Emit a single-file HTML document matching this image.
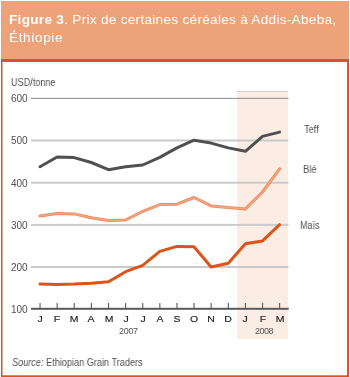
<!DOCTYPE html>
<html><head><meta charset="utf-8">
<style>
html,body{margin:0;padding:0;background:#fff;}
body{width:350px;height:377px;position:relative;overflow:hidden;font-family:"Liberation Sans",sans-serif;}
svg{position:absolute;left:0;top:0;}
.t{position:absolute;white-space:nowrap;line-height:1;will-change:transform;}
</style></head><body>
<svg width="350" height="377" viewBox="0 0 350 377">
  <!-- header -->
  <rect x="1" y="1" width="348" height="58" fill="#EDA27A"/>
  <!-- frame -->
  <rect x="1" y="59" width="348" height="3" fill="#DA5420"/>
  <rect x="1" y="59" width="1.5" height="318" fill="#DA5420"/>
  <rect x="347" y="59" width="2" height="318" fill="#DA5420"/>
  <rect x="1" y="375.3" width="348" height="1.7" fill="#DA5420"/>
  <!-- shaded 2008 -->
  <rect x="237" y="91" width="51" height="248" fill="#FCEDE4"/>
  <rect x="237" y="91" width="51" height="1" fill="#D8CBC2"/>
  <!-- gridlines -->
  <rect x="31" y="97.8" width="257.5" height="1.2" fill="#9A9A9A"/>
  <rect x="31" y="139.5" width="257.5" height="2" fill="#CACACA"/>
  <rect x="31" y="181.7" width="257.5" height="2" fill="#CACACA"/>
  <rect x="31" y="223.9" width="257.5" height="2" fill="#CACACA"/>
  <rect x="31" y="266" width="257.5" height="2" fill="#CACACA"/>
  <!-- axis -->
  <rect x="31" y="307.8" width="257.7" height="2" fill="#5A5A5A"/>
  <g fill="#5A5A5A">
    <rect x="39.5" y="303" width="1.1" height="5"/>
    <rect x="56.6" y="303" width="1.1" height="5"/>
    <rect x="73.7" y="303" width="1.1" height="5"/>
    <rect x="90.8" y="303" width="1.1" height="5"/>
    <rect x="108.0" y="303" width="1.1" height="5"/>
    <rect x="125.1" y="303" width="1.1" height="5"/>
    <rect x="142.2" y="303" width="1.1" height="5"/>
    <rect x="159.3" y="303" width="1.1" height="5"/>
    <rect x="176.4" y="303" width="1.1" height="5"/>
    <rect x="193.5" y="303" width="1.1" height="5"/>
    <rect x="210.6" y="303" width="1.1" height="5"/>
    <rect x="227.8" y="303" width="1.1" height="5"/>
    <rect x="244.9" y="303" width="1.1" height="5"/>
    <rect x="262.0" y="303" width="1.1" height="5"/>
    <rect x="279.1" y="303" width="1.1" height="5"/>
  </g>
  <!-- series -->
  <polyline fill="none" stroke="#505050" stroke-width="3" stroke-linejoin="round" stroke-linecap="round"
    points="40.0,166.7 57.1,157.0 74.2,157.6 91.3,162.5 108.5,169.7 125.6,166.7 142.7,165.0 159.8,157.4 176.9,147.9 194.0,140.2 211.1,143.1 228.3,147.9 245.4,151.3 262.5,136.4 279.6,132.1"/>
  <polyline id="ble" fill="none" stroke="#EE8B5E" stroke-width="3" stroke-linejoin="round" stroke-linecap="round"
    points="40.0,216.0 57.1,213.5 74.2,213.9 91.3,217.7 108.5,220.4 125.6,220.0 142.7,211.4 159.8,204.6 176.9,204.2 194.0,197.5 211.1,205.9 228.3,207.6 245.4,208.9 262.5,192.0 279.6,168.8"/>
  <polyline fill="none" stroke="#F8A985" stroke-width="1.1" stroke-linejoin="round" stroke-linecap="round"
    points="40.0,216.0 57.1,213.5 74.2,213.9 91.3,217.7 108.5,220.4 125.6,220.0 142.7,211.4 159.8,204.6 176.9,204.2 194.0,197.5 211.1,205.9 228.3,207.6 245.4,208.9 262.5,192.0 279.6,168.8"/>
  <polyline fill="none" stroke="#DD5419" stroke-width="3" stroke-linejoin="round" stroke-linecap="round"
    points="40.0,284.1 57.1,284.5 74.2,284.1 91.3,283.2 108.5,281.8 125.6,271.7 142.7,265.3 159.8,251.4 176.9,246.4 194.0,246.8 211.1,267.0 228.3,263.2 245.4,243.8 262.5,240.9 279.6,224.7"/>
</svg>
<div class="t" id="title1" style="left:9px;top:14px;font-size:12.5px;letter-spacing:0.25px;transform:scaleX(1.09);transform-origin:0 0;color:#fff;"><b>Figure 3</b>. Prix de certaines céréales à Addis-Abeba,</div>
<div class="t" id="title2" style="left:9px;top:32px;font-size:12.5px;letter-spacing:0.6px;transform:scaleX(1.085);transform-origin:0 0;color:#fff;">Éthiopie</div>
<div class="t" id="usd" style="left:11px;top:77.5px;font-size:10px;transform:scaleX(0.91);transform-origin:0 0;color:#505050;">USD/tonne</div>
<div class="t" style="left:11.3px;top:94.2px;font-size:10px;transform:scaleX(0.98);transform-origin:0 0;color:#505050;">600</div>
<div class="t" style="left:11.3px;top:136.4px;font-size:10px;transform:scaleX(0.98);transform-origin:0 0;color:#505050;">500</div>
<div class="t" style="left:11.3px;top:178.6px;font-size:10px;transform:scaleX(0.98);transform-origin:0 0;color:#505050;">400</div>
<div class="t" style="left:11.3px;top:220.8px;font-size:10px;transform:scaleX(0.98);transform-origin:0 0;color:#505050;">300</div>
<div class="t" style="left:11.3px;top:263.0px;font-size:10px;transform:scaleX(0.98);transform-origin:0 0;color:#505050;">200</div>
<div class="t" style="left:11.3px;top:305.2px;font-size:10px;transform:scaleX(0.98);transform-origin:0 0;color:#505050;">100</div>
<div class="t" style="left:304px;top:125.2px;font-size:10px;transform:scaleX(0.92);transform-origin:0 0;color:#505050;">Teff</div>
<div class="t" style="left:302.6px;top:165.2px;font-size:10px;transform:scaleX(0.94);transform-origin:0 0;color:#505050;">Blé</div>
<div class="t" style="left:300px;top:220.6px;font-size:10px;transform:scaleX(0.9);transform-origin:0 0;color:#505050;">Maïs</div>
<div class="t" style="left:12px;top:357.5px;font-size:10px;transform:scaleX(0.915);transform-origin:0 0;color:#505050;"><i>Source:</i> Ethiopian Grain Traders</div>
<div class="t" style="left:118.5px;top:326.8px;font-size:9px;letter-spacing:-0.3px;color:#555;">2007</div>
<div class="t" style="left:255px;top:326.8px;font-size:9px;letter-spacing:-0.5px;color:#555;">2008</div>
<div id="months" style="position:absolute;left:0;top:315px;font-size:8.6px;font-weight:normal;-webkit-text-stroke:0.15px #222;color:#222;line-height:1;">
  <span class="t" style="left:40px;transform:translateX(-50%) scaleX(1.22)">J</span>
  <span class="t" style="left:57.1px;transform:translateX(-50%) scaleX(1.22)">F</span>
  <span class="t" style="left:74.2px;transform:translateX(-50%) scaleX(1.22)">M</span>
  <span class="t" style="left:91.3px;transform:translateX(-50%) scaleX(1.22)">A</span>
  <span class="t" style="left:108.5px;transform:translateX(-50%) scaleX(1.22)">M</span>
  <span class="t" style="left:125.6px;transform:translateX(-50%) scaleX(1.22)">J</span>
  <span class="t" style="left:142.7px;transform:translateX(-50%) scaleX(1.22)">J</span>
  <span class="t" style="left:159.8px;transform:translateX(-50%) scaleX(1.22)">A</span>
  <span class="t" style="left:176.9px;transform:translateX(-50%) scaleX(1.22)">S</span>
  <span class="t" style="left:194.0px;transform:translateX(-50%) scaleX(1.22)">O</span>
  <span class="t" style="left:211.1px;transform:translateX(-50%) scaleX(1.22)">N</span>
  <span class="t" style="left:228.3px;transform:translateX(-50%) scaleX(1.22)">D</span>
  <span class="t" style="left:245.4px;transform:translateX(-50%) scaleX(1.22)">J</span>
  <span class="t" style="left:262.5px;transform:translateX(-50%) scaleX(1.22)">F</span>
  <span class="t" style="left:279.6px;transform:translateX(-50%) scaleX(1.22)">M</span>
</div>
</body></html>
